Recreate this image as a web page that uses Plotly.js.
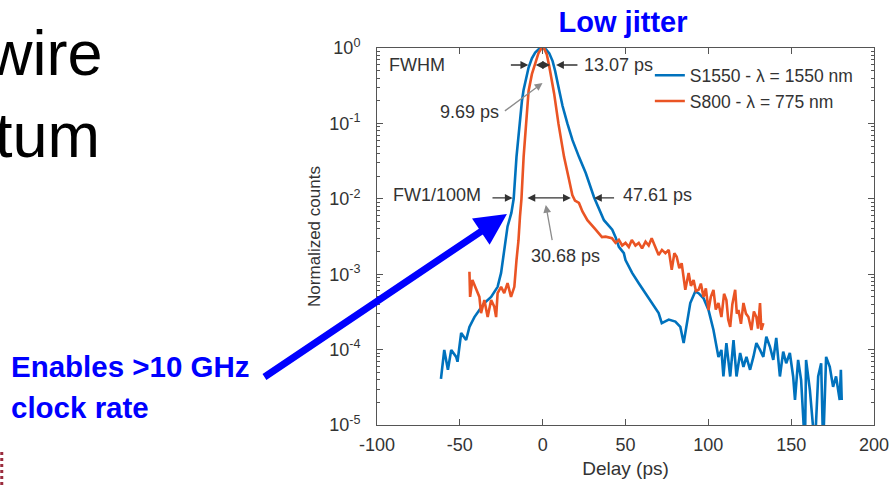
<!DOCTYPE html>
<html>
<head>
<meta charset="utf-8">
<script src="https://cdn.plot.ly/plotly-3.0.1.min.js"></script>
<style>html,body{margin:0;padding:0;background:#fff;}#chart{width:890px;height:487px;}</style>
</head>
<body>
<div id="chart"></div>
<script>
// ---- data ----
const seriesNames = ['S1550 - λ = 1550 nm', 'S800 - λ = 775 nm'];

const delayS1550 = [
  -61.4, -59.4, -57.2, -55.2, -52.2, -51.4, -49.2, -46.2, -44.2, -41.2,
  -38.2, -35.2, -31.1, -27.2, -25.1, -23.2, -21.2, -18.9, -17.5, -15.8,
  -14.1, -12.5, -11.5, -10, -8.5, -6.5, -4.5, -2.5, 0, 2,
  4, 6, 7.5, 9.9, 12, 14.9, 18, 21.9, 26, 31,
  34, 37, 42, 44, 46, 49, 50, 54, 58, 62.1,
  65.8, 70, 71.9, 76.1, 80.1, 83.1, 85.1, 86.9, 89.1, 92.1,
  94.1, 97.1, 100.1, 103.1, 106.1, 107.9, 109.1, 110.9, 113.2, 115.2,
  117, 119.2, 121.2, 123, 125.2, 127.2, 129, 131.2, 133.2, 135,
  137.2, 139.2, 141, 143.2, 145.2, 147, 149.2, 151.2, 152.3, 154.2,
  156, 158.3, 159, 161.3, 164.3, 166.3, 168.1, 169.3, 171.1, 173.3,
  175.3, 177.1, 179.3, 180, 180.5
];
const countsS1550 = [
  4.1e-5, 9.9e-5, 5.4e-5, 9.9e-5, 8.0e-5, 6.9e-5, 1.66e-4, 1.34e-4, 2.0e-4, 2.7e-4,
  3.35e-4, 4.15e-4, 5.0e-4, 6.8e-4, 1.04e-3, 2.1e-3, 4.3e-3, 6.5e-3, 0.01, 0.036,
  0.1, 0.2, 0.28, 0.4, 0.55, 0.73, 0.87, 0.96, 1, 0.96,
  0.85, 0.67, 0.5, 0.28, 0.17, 0.1, 0.06, 0.036, 0.022, 0.0105,
  0.0075, 5.2e-3, 3.9e-3, 3.1e-3, 2.3e-3, 1.9e-3, 1.54e-3, 1.04e-3, 7.6e-4, 5.6e-4,
  4.15e-4, 3.05e-4, 2.25e-4, 2.5e-4, 2.35e-4, 2.0e-4, 1.22e-4, 2.25e-4, 4.15e-4, 5.9e-4,
  5.6e-4, 4.8e-4, 3.35e-4, 1.82e-4, 8.0e-5, 9.9e-5, 4.4e-5, 1.22e-4, 4.4e-5, 1.34e-4,
  4.4e-5, 9.0e-5, 5.9e-5, 8.0e-5, 5.4e-5, 8.0e-5, 1.22e-4, 9.9e-5, 8.0e-5, 1.48e-4,
  1.09e-4, 7.3e-5, 1.43e-4, 4.4e-5, 9.4e-5, 6.6e-5, 9.0e-5, 4.4e-5, 2.15e-5, 7.3e-5,
  3.95e-5, 5e-6, 7.3e-5, 2.9e-5, 5e-6, 4.4e-5, 6.6e-5, 5e-6, 8.0e-5, 5.9e-5,
  3.2e-5, 4.4e-5, 2.15e-5, 5.4e-5, 2.15e-5
];

const delayS800 = [
  -44.2, -43.8, -42.4, -40.2, -38.2, -37.2, -35.2, -33.2, -31.1, -29.2,
  -28.1, -27.2, -25.1, -23.2, -21.2, -19.1, -17.1, -15.8, -14.6, -13.7,
  -12.8, -11.5, -10.1, -8.5, -6.5, -4.5, -2.5, -1, 0, 1,
  2.5, 4, 5.5, 6.9, 9.5, 12.9, 15.9, 17.9, 19.5, 21.9,
  24, 27, 32, 35.8, 38, 41.8, 44, 46, 48, 50,
  52, 53.8, 56, 58, 60, 62.1, 64, 65.8, 68, 70,
  72, 74.1, 76.1, 77.9, 79.5, 80.9, 82.5, 83.9, 86.1, 88.1,
  89.5, 91.1, 92.5, 94.1, 95.5, 97.1, 98.5, 100.1, 101.5, 103.1,
  104.5, 106.1, 107.9, 109.5, 110.9, 112, 113.2, 114.5, 116.2, 117.2,
  118.2, 119.7, 121.2, 122.7, 124.2, 126, 127.5, 129, 130, 131.2,
  132, 133.2
];
const countsS800 = [
  1.08e-3, 5.0e-4, 8.4e-4, 6.2e-4, 5.0e-4, 3.05e-4, 4.55e-4, 2.7e-4, 4.55e-4, 3.7e-4,
  2.7e-4, 5.6e-4, 6.8e-4, 5.6e-4, 7.6e-4, 5.0e-4, 6.8e-4, 1.54e-3, 2.8e-3, 5.8e-3,
  0.01, 0.036, 0.1, 0.27, 0.45, 0.62, 0.86, 0.97, 1, 0.97,
  0.82, 0.57, 0.37, 0.25, 0.1, 0.036, 0.018, 0.0112, 0.0095, 8.8e-3,
  6.8e-3, 5.2e-3, 3.9e-3, 3.1e-3, 3.15e-3, 3.0e-3, 2.6e-3, 2.85e-3, 2.4e-3, 2.6e-3,
  2.3e-3, 2.85e-3, 2.4e-3, 2.6e-3, 2.2e-3, 2.7e-3, 2.4e-3, 3.0e-3, 2.3e-3, 1.8e-3,
  2.1e-3, 1.9e-3, 2.1e-3, 1.14e-3, 1.9e-3, 1.7e-3, 1.2e-3, 1.4e-3, 6.2e-4, 1.04e-3,
  7.0e-4, 8.4e-4, 6.0e-4, 6.2e-4, 7.5e-4, 5.0e-4, 6.5e-4, 3.35e-4, 5.0e-4, 6.2e-4,
  3.4e-4, 4.15e-4, 2.7e-4, 5.5e-4, 4.55e-4, 2.5e-4, 2.0e-4, 4.0e-4, 6.2e-4, 3.0e-4,
  3.35e-4, 2.2e-4, 4.15e-4, 3.0e-4, 2.7e-4, 1.82e-4, 3.2e-4, 2.7e-4, 1.9e-4, 4.15e-4,
  1.82e-4, 2.25e-4
];

const xTickVals = [-100, -50, 0, 50, 100, 150, 200];
const xTickText = ['-100', '-50', '0', '50', '100', '150', '200'];
const yTickVals = [1, 0.1, 0.01, 0.001, 0.0001, 0.00001];
const yTickText = ['10<sup>0</sup>', '10<sup>-1</sup>', '10<sup>-2</sup>', '10<sup>-3</sup>', '10<sup>-4</sup>', '10<sup>-5</sup>'];

// ---- styling ----
const FONT = 'Arial, "Liberation Sans", Helvetica, sans-serif';
const TXT = '#333333';
const AX = '#555555';
const BLUE = '#0072BD';
const ORANGE = '#EA5424';

const minorVals = [];
yTickVals.forEach(d => { if (d < 1) for (let m = 2; m <= 9; m++) minorVals.push(d * m); });

const traces = [
  {x: delayS1550, y: countsS1550, name: seriesNames[0], type: 'scatter', mode: 'lines',
   line: {color: BLUE, width: 2.6}},
  {x: delayS800, y: countsS800, name: seriesNames[1], type: 'scatter', mode: 'lines',
   line: {color: ORANGE, width: 2.6}}
];

const lf = (s, c) => ({family: FONT, size: s, color: c || TXT});
function arrow(x, y, ax, ay, opts) {
  return Object.assign({x: x, y: y, ax: ax, ay: ay, xref: 'x', yref: 'y', axref: 'x', ayref: 'y',
    text: '', showarrow: true, arrowhead: 2, arrowsize: 1.2, arrowwidth: 1.3, arrowcolor: '#333',
    standoff: 0, startstandoff: 0}, opts || {});
}
function label(x, y, text, opts) {
  return Object.assign({x: x, y: y, xref: 'x', yref: 'y', text: text, showarrow: false,
    font: lf(18)}, opts || {});
}

const annotations = [
  label(-76, -0.2255, 'FWHM'),
  arrow(-8.7, -0.2255, -20.1, -0.2255),
  arrow(4.5, -0.2255, -5.1, -0.2255, {arrowside: 'end+start'}),
  arrow(8.1, -0.2255, 21.9, -0.2255),
  label(23.8, -0.2255, '13.07 ps', {xanchor: 'left'}),
  label(-44.2, -0.849, '9.69 ps'),
  arrow(-0.1, -0.464, -23.7, -0.849, {arrowcolor: '#8c8c8c'}),
  label(-64, -1.956, 'FW1/100M'),
  arrow(-18.1, -1.989, -31.2, -1.989),
  arrow(17, -1.989, -10.1, -1.989, {arrowside: 'end+start'}),
  arrow(31, -1.989, 44, -1.989),
  label(47.2, -1.956, '47.61 ps', {xanchor: 'left'}),
  label(13.5, -2.752, '30.68 ps'),
  arrow(1.9, -2.082, 5.9, -2.569, {arrowcolor: '#8c8c8c'}),
  // slide context
  {xref: 'paper', yref: 'paper', x: -0.547, y: 0.988, xanchor: 'right', yanchor: 'middle',
   text: 'wire', showarrow: false, font: {family: FONT, size: 63, color: '#000'}},
  {xref: 'paper', yref: 'paper', x: -0.553, y: 0.770, xanchor: 'right', yanchor: 'middle',
   text: 'tum', showarrow: false, font: {family: FONT, size: 63, color: '#000'}},
  {xref: 'paper', yref: 'paper', x: -0.74, y: 0.154, xanchor: 'left', yanchor: 'middle',
   text: '<b>Enables >10 GHz</b>', showarrow: false, font: {family: FONT, size: 29.5, color: '#0000ff'}},
  {xref: 'paper', yref: 'paper', x: -0.74, y: 0.0477, xanchor: 'left', yanchor: 'middle',
   text: '<b>clock rate</b>', showarrow: false, font: {family: FONT, size: 29.5, color: '#0000ff'}},
  {xref: 'paper', yref: 'paper', x: 0.2615, y: 0.5597, ax: -244, ay: 164, text: '',
   showarrow: true, arrowhead: 2, arrowsize: 0.9, arrowwidth: 7, arrowcolor: '#0000ff',
   standoff: 0, startstandoff: 0}
];

const layout = {
  width: 890, height: 487,
  margin: {l: 377, r: 16, t: 48, b: 62},
  paper_bgcolor: '#ffffff', plot_bgcolor: '#ffffff',
  font: lf(17),
  title: {text: '<b>Low jitter</b>', font: {family: FONT, size: 29, color: '#0000ff'},
          xref: 'paper', x: 0.495, xanchor: 'center', yref: 'container', y: 0.955, yanchor: 'middle'},
  showlegend: true,
  legend: {x: 0.549, y: 0.975, xanchor: 'left', yanchor: 'top', bgcolor: 'rgba(0,0,0,0)',
           font: lf(17.5), borderwidth: 0},
  xaxis: {
    range: [-100, 200], tickmode: 'array', tickvals: xTickVals, ticktext: xTickText,
    ticks: 'inside', ticklen: 6, tickwidth: 1, tickcolor: AX,
    showline: true, linecolor: AX, linewidth: 1, mirror: 'allticks',
    showgrid: false, zeroline: false, ticklabeloverflow: 'allow',
    tickfont: lf(18), ticklabelstandoff: 3,
    title: {text: 'Delay (ps)', font: lf(19), standoff: 8}
  },
  yaxis: {
    type: 'log', range: [-5, 0], tickmode: 'array', tickvals: yTickVals, ticktext: yTickText,
    ticks: 'inside', ticklen: 6, tickwidth: 1, tickcolor: AX,
    minor: {tickmode: 'array', tickvals: minorVals, ticks: 'inside', ticklen: 3, tickcolor: AX, showgrid: false},
    showline: true, linecolor: AX, linewidth: 1, mirror: 'allticks',
    showgrid: false, zeroline: false,
    tickfont: lf(18), ticklabelstandoff: 12,
    title: {text: 'Normalized counts', font: lf(17), standoff: 4}
  },
  annotations: annotations,
  shapes: [
    {type: 'line', xref: 'paper', yref: 'paper', x0: -0.755, x1: -0.755, y0: -0.0716, y1: -0.165,
     line: {color: '#9b2c3d', width: 3, dash: 'dot'}}
  ]
};

Plotly.newPlot('chart', traces, layout, {displayModeBar: false, staticPlot: true});
</script>
</body>
</html>
